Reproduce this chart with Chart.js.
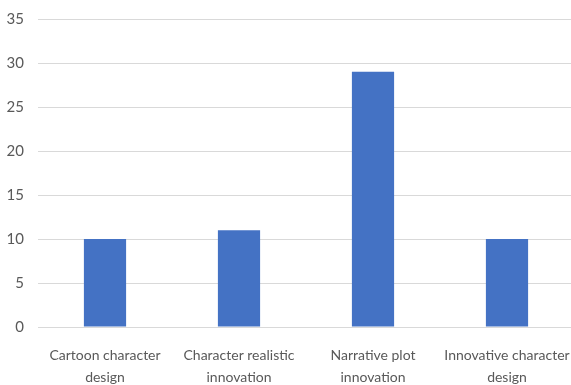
<!DOCTYPE html>
<html>
<head>
<meta charset="utf-8">
<script src="https://cdn.jsdelivr.net/npm/chart.js@4"></script>
<style>
  html, body { margin: 0; padding: 0; background: #fff; overflow: hidden; }
  #wrap { width: 574px; height: 385px; }
</style>
</head>
<body>
<div id="wrap"><canvas id="c"></canvas></div>
<script>
// Survey categories (multi-line labels) and the count for each
const categories = [
  ["Cartoon character", "design"],
  ["Character realistic", "innovation"],
  ["Narrative plot", "innovation"],
  ["Innovative character", "design"]
];
const counts = [10, 11, 29, 10];
const yMin = 0, yMax = 35, yStep = 5;

const textColor = "#595959";
const gridColor = "#d9d9d9";
const barColor = "#4472c4";
const fontFamily = "Lato, 'Open Sans', sans-serif";

new Chart(document.getElementById("c"), {
  type: "bar",
  data: {
    labels: categories,
    datasets: [{
      data: counts,
      backgroundColor: barColor,
      borderWidth: 0,
      barPercentage: 0.63,
      categoryPercentage: 0.5
    }]
  },
  options: {
    responsive: true,
    maintainAspectRatio: false,
    animation: false,
    layout: { padding: { top: 19, right: 0, bottom: 0, left: 0 } },
    plugins: { legend: { display: false }, tooltip: { enabled: false } },
    scales: {
      x: {
        grid: { display: false, drawTicks: false },
        border: { display: false },
        ticks: {
          color: textColor,
          font: { family: fontFamily, size: 14, lineHeight: 22 / 14 },
          padding: 17,
          maxRotation: 0,
          autoSkip: false
        },
        // fixed band below the plot for the two-line category labels
        afterFit: (scale) => {
          scale.height = 58;
          scale.paddingLeft = 0;
          scale.paddingRight = 0;
        }
      },
      y: {
        min: yMin,
        max: yMax,
        grid: { color: gridColor, lineWidth: 1, drawTicks: false },
        border: { display: false },
        ticks: {
          stepSize: yStep,
          color: textColor,
          font: { family: fontFamily, size: 15 },
          padding: 14
        },
        afterFit: (scale) => {
          scale.width = 38;
          scale.paddingTop = 0;
          scale.paddingBottom = 0;
        }
      }
    }
  }
});
</script>
</body>
</html>
